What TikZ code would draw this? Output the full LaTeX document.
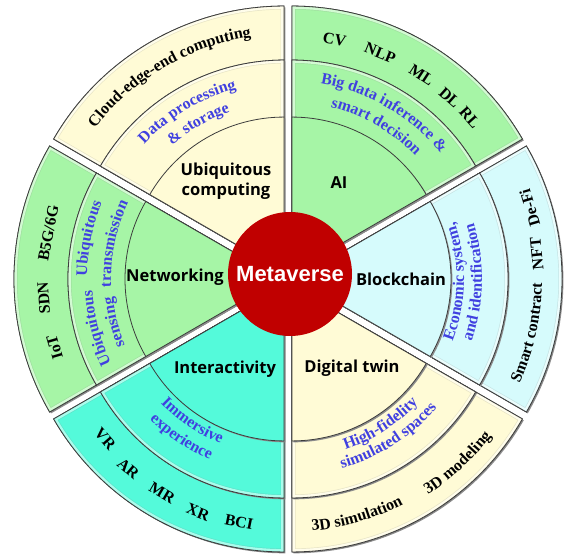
\documentclass[tikz,border=0pt]{standalone}
\usepackage{fontspec}
\usepackage{tikz}
\usetikzlibrary{decorations.text}
\newfontfamily\tnr{Liberation Serif}
\newfontfamily\lbl{Open Sans}
\newfontfamily\arl{Liberation Sans}
\definecolor{cream}{RGB}{255, 251, 214}
\definecolor{mint}{RGB}{166, 245, 166}
\definecolor{icecyan}{RGB}{214, 251, 252}
\definecolor{aqua}{RGB}{84, 250, 218}
\definecolor{darkred}{RGB}{192, 0, 0}
\definecolor{textblue}{RGB}{64, 64, 224}
\definecolor{edgegray}{RGB}{60, 60, 60}
\newcommand{\leaffont}{\tnr\bfseries\fontsize{16}{19}\selectfont}
\newcommand{\wedgepath}[2]{(0,0) -- (#1:#2pt) arc[start angle=#1, end angle=#1+60, radius=#2pt] -- cycle}
\newcommand{\wedgeslice}[3]{%
  \fill[shade, shift={({#1+30}:8pt)}, xshift=1.4pt, yshift=-1.4pt] \wedgepath{#1}{#2};
  \fill[#3, shift={({#1+30}:8pt)}] \wedgepath{#1}{#2};
  \draw[border, shift={({#1+30}:8pt)}] \wedgepath{#1}{#2};}
\newcommand{\wedgepetal}[3]{%
  \wedgeslice{#1}{#2}{#3}
  \begin{scope}[shift={({#1+30}:8pt)}]
    \clip \wedgepath{#1}{#2};
    \draw[#3!82!gray, line width=7pt]   \wedgepath{#1}{#2};
    \draw[#3!50!white, line width=5.6pt] \wedgepath{#1}{#2};
  \end{scope}
  \draw[border, shift={({#1+30}:8pt)}] \wedgepath{#1}{#2};}
\tikzset{
  border/.style={draw=edgegray, line width=0.8pt},
  shade/.style={fill=black!45},
  core/.style={font=\lbl\bfseries\fontsize{16.5}{20}\selectfont, align=center, inner sep=0pt},
  leaf/.style={font=\leaffont, inner sep=0pt},
  outertext/.style={decorate, decoration={text along path, text align=center, text={|\leaffont|#1}}},
  bluetext/.style={decorate, decoration={text along path, text align=center, text color=textblue, text={|\leaffont|#1}}}
}
\begin{document}
\begin{tikzpicture}[x=1pt, y=1pt]
\useasboundingbox (-288,-274) rectangle (281,279);
\wedgepetal{90}{266}{cream}     \wedgepetal{90}{212}{cream}     \wedgeslice{90}{155}{cream}
\wedgepetal{30}{266}{mint}      \wedgepetal{30}{212}{mint}      \wedgeslice{30}{155}{mint}
\wedgepetal{-30}{266}{icecyan}  \wedgepetal{-30}{212}{icecyan}  \wedgeslice{-30}{155}{icecyan}
\wedgepetal{-90}{266}{cream}    \wedgepetal{-90}{212}{cream}    \wedgeslice{-90}{155}{cream}
\wedgepetal{210}{266}{aqua}     \wedgepetal{210}{212}{aqua}     \wedgeslice{210}{155}{aqua}
\wedgepetal{150}{266}{mint}     \wedgepetal{150}{212}{mint}     \wedgeslice{150}{155}{mint}

\node[circle, fill=darkred, minimum size=124pt, inner sep=0pt, text=white,
      font=\arl\bfseries\fontsize{22}{26}\selectfont] (meta) at (2,5) {Metaverse};

\node[core] (ubiq)  at ( -62,  98) {Ubiquitous\\computing};
\node[core] (ai)    at (  51,  96) {AI};
\node[core] (chain) at ( 113,   0) {Blockchain};
\node[core] (twin)  at (  64, -89) {Digital twin};
\node[core] (inter) at ( -63, -90) {Interactivity};
\node[core] (net)   at (-113,   2) {Networking};

\node[leaf, rotate=-11.0] (cv)   at (79.0:244pt)  {CV};
\node[leaf, rotate=-22.2] (nlp)  at (67.8:244pt)  {NLP};
\node[leaf, rotate=-33.2] (ml)   at (56.8:244pt)  {ML};
\node[leaf, rotate=-41.7] (dl)   at (48.3:243pt)  {DL};
\node[leaf, rotate=-48.4] (rl)   at (41.6:243pt)  {RL};
\node[leaf, rotate=79.2]  (b5g)  at (169.2:244pt) {B5G/6G};
\node[leaf, rotate=94.5]  (sdn)  at (184.5:245pt) {SDN};
\node[leaf, rotate=106.3] (iot)  at (196.3:243pt) {IoT};
\node[leaf, rotate=-48.8] (vr)   at (221.2:243pt) {VR};
\node[leaf, rotate=-40.1] (ar)   at (229.9:248pt) {AR};
\node[leaf, rotate=-30.5] (mr)   at (239.5:248pt) {MR};
\node[leaf, rotate=-21.1] (xr)   at (248.9:250pt) {XR};
\node[leaf, rotate=-11.4] (bci)  at (258.6:248pt) {BCI};
\node[leaf, rotate=95.8]  (nft)  at (5.8:250pt)   {NFT};
\node[leaf, rotate=106.4] (defi) at (16.4:252pt)  {De-Fi};

\path[outertext={Cloud-edge-end computing}] (160.3:245pt) arc[start angle=160.3, end angle=80.3, radius=245pt];
\path[outertext={3D simulation}]            (-113.7:253pt) arc[start angle=-113.7, end angle=-33.7, radius=253pt];
\path[outertext={3D modeling}]              (-87.3:257pt) arc[start angle=-87.3, end angle=-7.3, radius=257pt];
\path[outertext={Smart contract}]           (-52.6:254pt) arc[start angle=-52.6, end angle=27.4, radius=254pt];

\path[bluetext={Data processing}]        (161:197pt) arc[start angle=161, end angle=81, radius=197pt];
\path[bluetext={{\&} storage}]           (160:177pt) arc[start angle=160, end angle=80, radius=177pt];
\path[bluetext={Big data inference {\&}}] (100:198pt) arc[start angle=100, end angle=20, radius=198pt];
\path[bluetext={smart decision}]         (100:177pt) arc[start angle=100, end angle=20, radius=177pt];
\path[bluetext={Economic system,}]       (-41:176pt) arc[start angle=-41, end angle=39, radius=176pt];
\path[bluetext={and identification}]     (-41:194pt) arc[start angle=-41, end angle=39, radius=194pt];
\path[bluetext={High-fidelity}]          (-97.5:180pt) arc[start angle=-97.5, end angle=-17.5, radius=180pt];
\path[bluetext={simulated spaces}]       (-97.5:197pt) arc[start angle=-97.5, end angle=-17.5, radius=197pt];
\path[bluetext={Immersive}]              (196:178pt) arc[start angle=196, end angle=276, radius=178pt];
\path[bluetext={experience}]             (196:197pt) arc[start angle=196, end angle=276, radius=197pt];
\path[bluetext={Ubiquitous}]             (208.5:201pt) arc[start angle=208.5, end angle=128.5, radius=201pt];
\path[bluetext={transmission}]           (208.5:177pt) arc[start angle=208.5, end angle=128.5, radius=177pt];
\path[bluetext={Ubiquitous}]             (234.5:196pt) arc[start angle=234.5, end angle=154.5, radius=196pt];
\path[bluetext={sensing}]                (234:176pt) arc[start angle=234, end angle=154, radius=176pt];
\end{tikzpicture}
\end{document}
